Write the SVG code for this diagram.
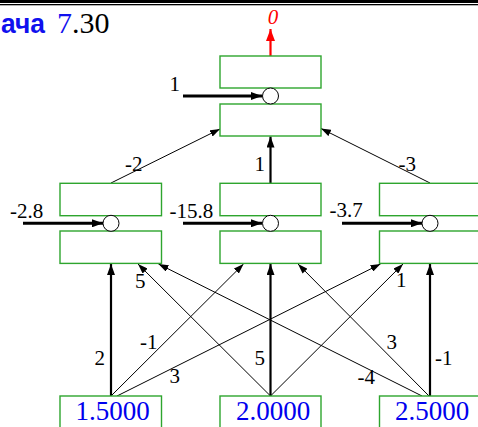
<svg xmlns="http://www.w3.org/2000/svg" width="478" height="427" viewBox="0 0 478 427">
<style>
.box{fill:#fff;stroke:#2ea52e;stroke-width:1.4}
.circ{fill:#fff;stroke:#000;stroke-width:1}
.lbl{font-family:"Liberation Serif",serif;font-size:21px;fill:#000}
.val{font-family:"Liberation Serif",serif;font-size:27px;fill:#0000ee;text-anchor:middle}
.thin{stroke:#000;stroke-width:1;fill:none;marker-end:url(#ahThin)}
.thick{stroke:#000;stroke-width:2.2;fill:none;marker-end:url(#ahThick)}
.bias{stroke:#000;stroke-width:3;fill:none;marker-end:url(#ahBias)}
</style>
<defs>
<marker id="ahThin" markerUnits="userSpaceOnUse" markerWidth="10" markerHeight="7" refX="10" refY="3.5" orient="auto"><path d="M0,0 L10,3.5 L0,7 z" fill="#000"/></marker>
<marker id="ahThick" markerUnits="userSpaceOnUse" markerWidth="11" markerHeight="8" refX="11" refY="4" orient="auto"><path d="M0,0 L11,4 L0,8 z" fill="#000"/></marker>
<marker id="ahBias" markerUnits="userSpaceOnUse" markerWidth="11" markerHeight="8" refX="11" refY="4" orient="auto"><path d="M0,0 L11,4 L0,8 z" fill="#000"/></marker>
<marker id="ahRed" markerUnits="userSpaceOnUse" markerWidth="12" markerHeight="9" refX="12" refY="4.5" orient="auto"><path d="M0,0 L12,4.5 L0,9 z" fill="#ff0000"/></marker>
</defs>
<rect x="0" y="0" width="478" height="427" fill="#fff"/>
<rect x="0" y="0" width="478" height="3" fill="#000"/>
<rect x="0" y="4" width="478" height="1.3" fill="#000"/>
<g id="title">
<text x="1" y="33" font-family="'Liberation Sans',sans-serif" font-weight="bold" font-size="27" fill="#1010ee" textLength="44" lengthAdjust="spacingAndGlyphs">ача</text>
<text x="57" y="33" font-family="'Liberation Serif',serif" font-size="30" fill="#000"><tspan fill="#1010ee">7</tspan>.30</text>
</g>
<g id="connectors">
<line class="thin" x1="111" y1="183" x2="220" y2="129"/>
<line class="thin" x1="430" y1="183" x2="321" y2="128.5"/>
<line class="thick" x1="270.5" y1="183" x2="270.5" y2="136.5"/>
<line x1="270.5" y1="56" x2="270.5" y2="29" stroke="#ff0000" stroke-width="2.2" marker-end="url(#ahRed)"/>
<line class="bias" x1="183" y1="96" x2="262" y2="96"/>
<line class="bias" x1="23" y1="223.3" x2="103" y2="223.3"/>
<line class="bias" x1="183" y1="223.3" x2="262" y2="223.3"/>
<line class="bias" x1="342" y1="223.3" x2="422" y2="223.3"/>
<line class="thick" x1="111" y1="396" x2="111" y2="264"/>
<line class="thick" x1="270.5" y1="396" x2="270.5" y2="264"/>
<line class="thick" x1="430" y1="396" x2="430" y2="264"/>
<line class="thin" x1="111" y1="396" x2="243.5" y2="264"/>
<line class="thin" x1="117" y1="396" x2="380.5" y2="264"/>
<line class="thin" x1="270.5" y1="396" x2="138" y2="264"/>
<line class="thin" x1="270.5" y1="396" x2="403" y2="264"/>
<line class="thin" x1="422" y1="396" x2="158.5" y2="264"/>
<line class="thin" x1="429" y1="396" x2="298" y2="264"/>
<g id="edge-labels">
<text class="lbl" x="125" y="171">-2</text>
<text class="lbl" x="398.5" y="171">-3</text>
<text class="lbl" x="254.5" y="171">1</text>
<text class="lbl" x="135" y="287.5">5</text>
<text class="lbl" x="396" y="287">1</text>
<text class="lbl" x="94.5" y="365">2</text>
<text class="lbl" x="140" y="348.5">-1</text>
<text class="lbl" x="169.5" y="383">3</text>
<text class="lbl" x="254.5" y="365">5</text>
<text class="lbl" x="386.5" y="349">3</text>
<text class="lbl" x="357.5" y="383.5">-4</text>
<text class="lbl" x="435" y="365">-1</text>
</g>
</g>
<g id="node-out">
<rect class="box" x="220" y="56" width="101" height="32"/>
<rect class="box" x="220" y="104" width="101" height="32"/>
<circle class="circ" cx="270.5" cy="96" r="8"/>
<text class="lbl" x="169.5" y="91">1</text>
<text x="273" y="24" font-family="'Liberation Serif',serif" font-style="italic" font-size="21" fill="#ff0000" text-anchor="middle">0</text>
</g>
<g id="node-h1">
<rect class="box" x="60" y="183.3" width="101.5" height="32.4"/>
<rect class="box" x="60" y="231" width="101.5" height="32.4"/>
<circle class="circ" cx="111" cy="223.3" r="8"/>
<text class="lbl" x="10" y="218.3">-2.8</text>
</g>
<g id="node-h2">
<rect class="box" x="220" y="183.3" width="101" height="32.4"/>
<rect class="box" x="220" y="231" width="101" height="32.4"/>
<circle class="circ" cx="270.5" cy="223.3" r="8"/>
<text class="lbl" x="169.5" y="218.3">-15.8</text>
</g>
<g id="node-h3">
<rect class="box" x="379.5" y="183.3" width="102" height="32.4"/>
<rect class="box" x="379.5" y="231" width="102" height="32.4"/>
<circle class="circ" cx="430" cy="223.3" r="8"/>
<text class="lbl" x="329.5" y="217">-3.7</text>
</g>
<g id="node-in1">
<rect class="box" x="60" y="396" width="101.5" height="40"/>
<text class="val" x="112.5" y="420">1.5000</text>
</g>
<g id="node-in2">
<rect class="box" x="220" y="396" width="101" height="40"/>
<text class="val" x="273" y="420">2.0000</text>
</g>
<g id="node-in3">
<rect class="box" x="379.5" y="396" width="102" height="40"/>
<text class="val" x="432" y="420">2.5000</text>
</g>
</svg>
